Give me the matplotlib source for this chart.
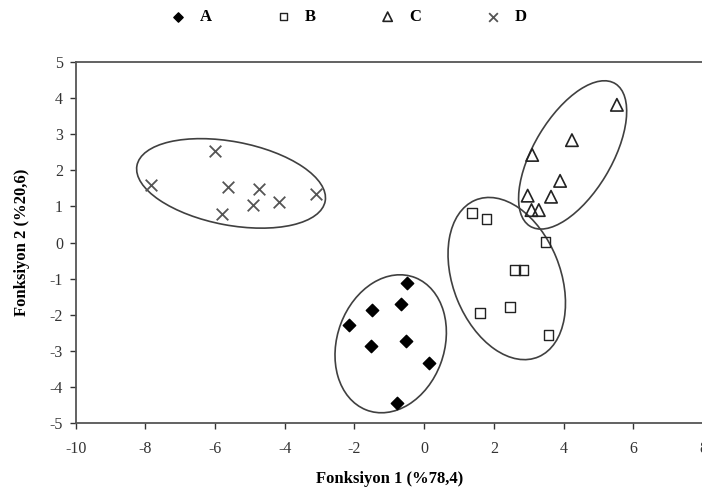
import matplotlib
matplotlib.use("Agg")
import matplotlib.pyplot as plt
from matplotlib.patches import Ellipse

plt.rcParams['font.family'] = ['Liberation Serif', 'DejaVu Serif']
plt.rcParams['axes.unicode_minus'] = False

# group A (filled diamonds)
a_x = [-0.50, -0.65, -1.49, -2.16, -1.53, -0.52, 0.15, -0.77]
a_y = [-1.12, -1.71, -1.88, -2.29, -2.86, -2.72, -3.35, -4.45]
# group B (open squares)
b_x = [1.38, 1.79, 3.48, 2.60, 2.85, 1.60, 2.47, 3.57]
b_y = [0.83, 0.66, 0.02, -0.76, -0.76, -1.96, -1.80, -2.57]
# group C (open triangles)
c_x = [5.53, 4.24, 3.10, 3.90, 3.64, 2.97, 3.08, 3.29]
c_y = [3.82, 2.84, 2.43, 1.71, 1.27, 1.30, 0.90, 0.90]
# group D (crosses)
d_x = [-7.85, -6.00, -5.64, -5.81, -4.90, -4.73, -4.17, -3.09]
d_y = [1.60, 2.55, 1.53, 0.79, 1.04, 1.48, 1.12, 1.35]

labels = ['A', 'B', 'C', 'D']

# group ellipses: center x, center y, width, height, angle
ellipses = [
    (-0.96, -2.81, 3.93, 3.07, 68.8),
    (2.37, -1.00, 4.71, 3.07, 112.9),
    (4.26, 2.43, 4.65, 2.22, 58.0),
    (-5.54, 1.64, 5.49, 2.32, -10.25),
]

fig = plt.figure(figsize=(7.02, 4.94), dpi=100)
ax = fig.add_axes([0.1077, 0.1443, 0.8937, 0.7296])

ax.scatter(a_x, a_y, marker='D', s=40, color='black', label=labels[0], zorder=3)
ax.scatter(b_x, b_y, marker='s', s=50, facecolors='none', edgecolors='#222222',
           linewidths=1.0, label=labels[1], zorder=3)
ax.scatter(c_x, c_y, marker='^', s=80, facecolors='none', edgecolors='#222222',
           linewidths=1.2, label=labels[2], zorder=3)
ax.scatter(d_x, d_y, marker='x', s=70, color='#555555', linewidths=1.3,
           label=labels[3], zorder=3)

for cx, cy, w, h, ang in ellipses:
    ax.add_patch(Ellipse((cx, cy), w, h, angle=ang, fill=False,
                         edgecolor='#404040', linewidth=1.2))

ax.set_xlim(-10, 8)
ax.set_ylim(-5, 5)
ax.set_xticks(range(-10, 9, 2))
ax.set_yticks(range(-5, 6, 1))
ax.tick_params(direction='out', length=4, width=1, colors='#333333',
               labelsize=11.5, labelcolor='#333333')
ax.tick_params(axis='x', pad=9)
ax.tick_params(axis='y', pad=5)
for sp in ax.spines.values():
    sp.set_color('#555555')
    sp.set_linewidth(1.3)

ax.set_xlabel('Fonksiyon 1 (%78,4)', fontsize=12, fontweight='bold', labelpad=10)
ax.set_ylabel('Fonksiyon 2 (%20,6)', fontsize=12, fontweight='bold', labelpad=14)

fig.legend(loc='upper center', bbox_to_anchor=(0.49, 1.012), ncol=4, frameon=False,
           prop={'weight': 'bold', 'size': 12}, columnspacing=3.3,
           handletextpad=0.3, markerscale=0.75)

fig.savefig('out.png', dpi=100)
